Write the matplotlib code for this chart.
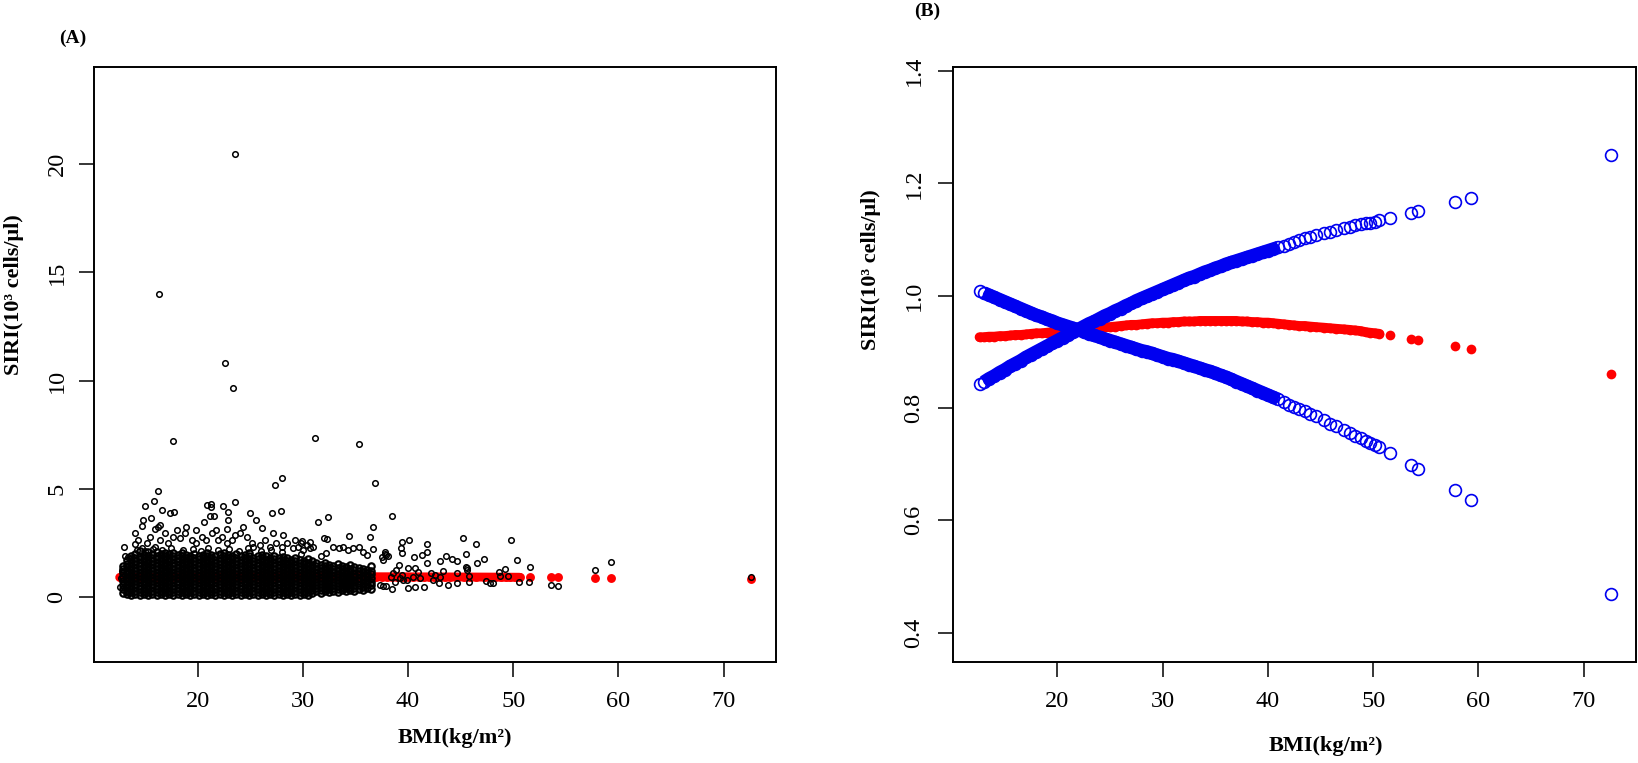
import matplotlib
matplotlib.use("Agg")
import matplotlib.pyplot as plt

plt.rcParams['font.family'] = ['Liberation Serif', 'DejaVu Serif']

# ---------------- data ----------------
# fitted curve (red) and the two blue bands, evaluated at BMI values
fit_bmi = [12.6, 13.0, 13.5, 14.0, 14.5, 15.0, 15.5, 16.0, 16.5, 17.0, 17.5, 18.0, 18.5, 19.0, 19.5,
           20.0, 20.5, 21.0, 21.5, 22.0, 22.5, 23.0, 23.5, 24.0, 24.5, 25.0, 25.5, 26.0, 26.5, 27.0,
           27.5, 28.0, 28.5, 29.0, 29.5, 30.0, 30.5, 31.0, 31.5, 32.0, 32.5, 33.0, 33.5, 34.0, 34.5,
           35.0, 35.5, 36.0, 36.5, 37.0, 37.5, 38.0, 38.5, 39.0, 39.5, 40.0, 40.5, 41.0, 41.5, 42.0,
           42.5, 43.0, 43.5, 44.0, 44.6, 45.3, 45.9, 46.5, 47.2, 47.8, 48.3, 48.8, 49.3, 49.7, 50.2,
           50.6, 51.6, 53.6, 54.3, 57.8, 59.3, 72.6]
fit_siri = [0.926, 0.926, 0.927, 0.927, 0.928, 0.928, 0.929, 0.930, 0.930, 0.931, 0.932, 0.933, 0.933, 0.934, 0.935,
            0.936, 0.937, 0.938, 0.938, 0.939, 0.940, 0.941, 0.942, 0.943, 0.944, 0.944, 0.945, 0.946, 0.947, 0.948,
            0.948, 0.949, 0.950, 0.951, 0.951, 0.952, 0.952, 0.953, 0.953, 0.954, 0.954, 0.954, 0.955, 0.955, 0.955,
            0.955, 0.955, 0.955, 0.955, 0.955, 0.954, 0.954, 0.953, 0.953, 0.952, 0.952, 0.951, 0.950, 0.949, 0.948,
            0.947, 0.946, 0.946, 0.945, 0.944, 0.943, 0.942, 0.941, 0.940, 0.939, 0.938, 0.937, 0.935, 0.934, 0.933,
            0.932, 0.929, 0.923, 0.921, 0.910, 0.905, 0.860]
ci_rise = [0.842, 0.846, 0.852, 0.857, 0.863, 0.868, 0.874, 0.879, 0.884, 0.890, 0.895, 0.900, 0.905, 0.910, 0.915,
           0.920, 0.925, 0.930, 0.935, 0.940, 0.945, 0.950, 0.954, 0.959, 0.964, 0.968, 0.973, 0.977, 0.982, 0.986,
           0.991, 0.995, 0.999, 1.003, 1.007, 1.011, 1.015, 1.019, 1.023, 1.027, 1.031, 1.034, 1.038, 1.042, 1.045,
           1.049, 1.052, 1.056, 1.059, 1.062, 1.065, 1.068, 1.071, 1.074, 1.077, 1.080, 1.083, 1.086, 1.089, 1.092,
           1.096, 1.099, 1.102, 1.105, 1.108, 1.111, 1.114, 1.117, 1.120, 1.123, 1.125, 1.127, 1.129, 1.130, 1.132,
           1.134, 1.139, 1.148, 1.151, 1.167, 1.174, 1.251]
ci_fall = [1.008, 1.005, 1.001, 0.997, 0.993, 0.989, 0.985, 0.981, 0.977, 0.973, 0.969, 0.965, 0.962, 0.958, 0.955,
           0.951, 0.948, 0.945, 0.942, 0.939, 0.936, 0.932, 0.929, 0.926, 0.923, 0.920, 0.917, 0.914, 0.911, 0.908,
           0.905, 0.902, 0.900, 0.897, 0.894, 0.891, 0.888, 0.886, 0.883, 0.880, 0.877, 0.874, 0.871, 0.868, 0.865,
           0.862, 0.858, 0.855, 0.851, 0.847, 0.843, 0.839, 0.835, 0.831, 0.827, 0.823, 0.819, 0.815, 0.811, 0.806,
           0.802, 0.798, 0.794, 0.790, 0.785, 0.778, 0.772, 0.767, 0.761, 0.755, 0.750, 0.746, 0.741, 0.737, 0.734,
           0.730, 0.720, 0.698, 0.691, 0.654, 0.636, 0.469]

# raw observations (panel A): dense core, read column by column
core_bmi = [12.9, 13.3, 13.7, 14.1, 14.5, 14.9, 15.3, 15.7, 16.1, 16.5, 16.9, 17.3, 17.7, 18.1, 18.5,
            18.9, 19.3, 19.7, 20.1, 20.5, 20.9, 21.3, 21.7, 22.1, 22.5, 22.9, 23.3, 23.7, 24.1, 24.5,
            24.9, 25.3, 25.7, 26.1, 26.5, 26.9, 27.3, 27.7, 28.1, 28.5, 28.9, 29.3, 29.7, 30.1, 30.5,
            30.9, 31.3, 31.7, 32.1, 32.5, 32.9, 33.3, 33.7, 34.1, 34.5, 34.9, 35.3, 35.7, 36.1, 36.5]
core_siri = [
    [0.22, 0.41, 0.58, 0.77, 0.95, 1.12, 1.31, 1.47],
    [0.14, 0.3, 0.46, 0.61, 0.77, 0.92, 1.08, 1.23, 1.39, 1.56, 1.72],
    [0.1, 0.24, 0.39, 0.55, 0.7, 0.84, 1.0, 1.15, 1.3, 1.45, 1.61, 1.78, 1.93],
    [0.16, 0.31, 0.46, 0.62, 0.77, 0.92, 1.07, 1.22, 1.37, 1.53, 1.68, 1.84, 2.02],
    [0.09, 0.23, 0.38, 0.54, 0.69, 0.85, 1.0, 1.14, 1.3, 1.45, 1.6, 1.76, 1.9, 2.14],
    [0.15, 0.3, 0.45, 0.61, 0.76, 0.91, 1.06, 1.21, 1.37, 1.52, 1.67, 1.83, 1.98],
    [0.1, 0.24, 0.39, 0.53, 0.69, 0.84, 0.99, 1.15, 1.3, 1.44, 1.6, 1.75, 1.91, 2.08],
    [0.16, 0.31, 0.47, 0.62, 0.76, 0.92, 1.07, 1.23, 1.38, 1.53, 1.69, 1.84, 2.0],
    [0.09, 0.23, 0.38, 0.54, 0.7, 0.85, 1.0, 1.15, 1.29, 1.45, 1.61, 1.76, 1.92, 2.1],
    [0.15, 0.3, 0.46, 0.61, 0.77, 0.92, 1.08, 1.22, 1.37, 1.53, 1.68, 1.83, 1.99],
    [0.1, 0.25, 0.39, 0.55, 0.7, 0.84, 1.0, 1.16, 1.31, 1.46, 1.6, 1.76, 1.92, 2.06],
    [0.16, 0.31, 0.46, 0.61, 0.77, 0.93, 1.08, 1.23, 1.38, 1.52, 1.68, 1.84, 1.99],
    [0.09, 0.24, 0.39, 0.54, 0.69, 0.85, 1.0, 1.14, 1.3, 1.46, 1.61, 1.76, 1.91, 2.07],
    [0.15, 0.3, 0.45, 0.61, 0.76, 0.91, 1.07, 1.22, 1.37, 1.52, 1.68, 1.83, 1.98],
    [0.1, 0.24, 0.4, 0.55, 0.7, 0.84, 0.99, 1.15, 1.3, 1.45, 1.6, 1.76, 1.91, 2.05],
    [0.16, 0.31, 0.46, 0.62, 0.77, 0.92, 1.07, 1.22, 1.38, 1.53, 1.68, 1.83, 1.97],
    [0.1, 0.25, 0.39, 0.54, 0.7, 0.85, 1.0, 1.15, 1.3, 1.45, 1.61, 1.76, 1.9],
    [0.15, 0.3, 0.46, 0.61, 0.76, 0.91, 1.07, 1.22, 1.37, 1.53, 1.68, 1.83, 2.0],
    [0.09, 0.24, 0.39, 0.55, 0.7, 0.85, 1.0, 1.14, 1.3, 1.46, 1.61, 1.76, 1.91],
    [0.16, 0.31, 0.46, 0.61, 0.77, 0.92, 1.07, 1.23, 1.38, 1.53, 1.68, 1.84, 1.98],
    [0.1, 0.24, 0.4, 0.54, 0.69, 0.85, 1.0, 1.15, 1.29, 1.45, 1.6, 1.75, 1.9, 2.06],
    [0.15, 0.3, 0.45, 0.61, 0.76, 0.91, 1.06, 1.22, 1.37, 1.52, 1.67, 1.83, 1.97],
    [0.09, 0.25, 0.39, 0.54, 0.7, 0.84, 1.0, 1.15, 1.3, 1.45, 1.61, 1.75, 1.91],
    [0.16, 0.31, 0.46, 0.62, 0.77, 0.92, 1.07, 1.22, 1.38, 1.53, 1.68, 1.84, 2.0],
    [0.1, 0.24, 0.39, 0.55, 0.7, 0.85, 0.99, 1.15, 1.3, 1.45, 1.6, 1.76, 1.9, 2.05],
    [0.15, 0.3, 0.46, 0.61, 0.76, 0.91, 1.07, 1.22, 1.37, 1.52, 1.68, 1.83, 1.98],
    [0.09, 0.24, 0.4, 0.54, 0.7, 0.85, 1.0, 1.14, 1.3, 1.46, 1.6, 1.76, 1.91],
    [0.16, 0.31, 0.46, 0.61, 0.77, 0.92, 1.07, 1.23, 1.38, 1.53, 1.68, 1.84, 1.99],
    [0.1, 0.25, 0.39, 0.55, 0.69, 0.84, 1.0, 1.15, 1.3, 1.45, 1.61, 1.75, 1.9],
    [0.15, 0.3, 0.45, 0.61, 0.76, 0.91, 1.06, 1.22, 1.37, 1.52, 1.67, 1.83, 1.97],
    [0.09, 0.24, 0.4, 0.54, 0.7, 0.85, 1.0, 1.15, 1.3, 1.45, 1.6, 1.76, 1.91, 2.04],
    [0.16, 0.31, 0.46, 0.62, 0.77, 0.92, 1.07, 1.22, 1.37, 1.53, 1.68, 1.83],
    [0.1, 0.24, 0.39, 0.55, 0.7, 0.84, 1.0, 1.15, 1.3, 1.46, 1.61, 1.76, 1.9],
    [0.15, 0.3, 0.46, 0.61, 0.76, 0.91, 1.07, 1.22, 1.37, 1.52, 1.68, 1.84, 1.98],
    [0.09, 0.25, 0.39, 0.54, 0.7, 0.85, 0.99, 1.14, 1.3, 1.45, 1.6, 1.75, 1.9],
    [0.16, 0.31, 0.46, 0.61, 0.77, 0.92, 1.07, 1.23, 1.38, 1.53, 1.68, 1.83],
    [0.1, 0.24, 0.4, 0.55, 0.69, 0.85, 1.0, 1.15, 1.3, 1.45, 1.61, 1.76, 1.92],
    [0.15, 0.3, 0.45, 0.61, 0.76, 0.91, 1.06, 1.22, 1.37, 1.52, 1.67, 1.82],
    [0.1, 0.24, 0.39, 0.54, 0.7, 0.84, 1.0, 1.15, 1.3, 1.45, 1.6, 1.75, 1.88],
    [0.16, 0.31, 0.46, 0.62, 0.77, 0.92, 1.07, 1.22, 1.38, 1.53, 1.68, 1.8],
    [0.11, 0.25, 0.4, 0.55, 0.7, 0.85, 1.0, 1.14, 1.3, 1.45, 1.61, 1.75],
    [0.17, 0.31, 0.46, 0.61, 0.76, 0.91, 1.07, 1.22, 1.37, 1.52, 1.67, 1.82],
    [0.12, 0.25, 0.39, 0.55, 0.7, 0.85, 1.0, 1.15, 1.3, 1.45, 1.6, 1.74],
    [0.18, 0.32, 0.46, 0.62, 0.77, 0.92, 1.07, 1.22, 1.37, 1.53, 1.68],
    [0.13, 0.26, 0.4, 0.55, 0.7, 0.84, 1.0, 1.15, 1.3, 1.46, 1.6, 1.76],
    [0.2, 0.33, 0.47, 0.61, 0.76, 0.91, 1.06, 1.22, 1.37, 1.52, 1.66],
    [0.28, 0.42, 0.56, 0.7, 0.84, 0.99, 1.14, 1.29, 1.44, 1.58],
    [0.22, 0.35, 0.49, 0.63, 0.77, 0.92, 1.07, 1.22, 1.36, 1.5],
    [0.3, 0.44, 0.57, 0.71, 0.86, 1.0, 1.15, 1.3, 1.45, 1.6],
    [0.25, 0.38, 0.5, 0.64, 0.79, 0.93, 1.08, 1.23, 1.38, 1.52],
    [0.32, 0.45, 0.58, 0.72, 0.86, 1.01, 1.16, 1.3, 1.44],
    [0.27, 0.4, 0.52, 0.65, 0.79, 0.94, 1.09, 1.23, 1.38, 1.55],
    [0.34, 0.47, 0.6, 0.73, 0.87, 1.01, 1.16, 1.31, 1.46],
    [0.29, 0.42, 0.54, 0.67, 0.8, 0.95, 1.1, 1.24, 1.39],
    [0.36, 0.5, 0.62, 0.75, 0.88, 1.02, 1.17, 1.32, 1.5],
    [0.31, 0.44, 0.57, 0.69, 0.82, 0.96, 1.1, 1.25, 1.4],
    [0.4, 0.58, 0.75, 0.9, 1.06, 1.22, 1.38],
    [0.33, 0.5, 0.68, 0.84, 1.0, 1.16, 1.3],
    [0.45, 0.62, 0.8, 0.97, 1.13, 1.28],
    [0.38, 0.56, 0.73, 0.9, 1.08, 1.24, 1.45],
]

# raw observations (panel A): scattered points outside the core
spread_bmi = [23.6, 16.35, 22.65, 23.35, 17.7, 31.2, 35.3, 27.4, 28.0, 36.9, 16.2,
              15.9, 15.0, 13.0, 14.1, 15.6, 14.7, 14.8, 16.6, 17.4, 17.8, 16.2, 16.4, 16.0,
              20.9, 21.3, 21.3, 21.2, 21.6, 22.4, 22.9, 23.6, 22.9, 22.8, 20.6, 19.9, 25.0,
              25.6, 27.1, 27.9, 26.1, 27.2, 28.1, 31.4, 32.4, 29.9, 30.7, 32.0, 32.3, 34.4,
              36.4, 36.7, 36.7, 38.5,
              14.05, 14.36, 14.68, 15.15, 15.47, 15.95, 16.42, 16.9, 17.21, 17.69, 18.0, 18.32,
              18.8, 18.95, 19.43, 19.9, 20.38, 20.85, 21.33, 21.8, 21.96, 22.28, 22.76, 23.23,
              23.55, 24.02, 24.34, 24.66, 25.13, 25.29, 25.92, 26.4, 26.87, 27.5, 27.98, 28.46,
              29.09, 29.56, 30.04, 30.67,
              14.2, 15.0, 15.8, 16.6, 17.5, 18.6, 19.6, 20.3, 21.0, 21.9, 23.0, 23.9, 24.8,
              26.0, 27.0, 28.0, 29.8, 29.3, 29.8, 30.4, 31.0,
              32.9, 33.4, 33.8, 34.3, 34.8, 35.3, 35.75, 36.1, 31.7, 32.2,
              12.6, 12.7, 12.8, 13.1, 13.4,
              37.8, 37.95, 37.6, 39.4, 40.1, 39.3, 39.4, 41.8, 41.8, 40.6, 41.3, 41.8, 43.6,
              44.2, 44.7, 43.0, 45.2, 45.5, 46.5, 47.2, 46.6, 45.5, 45.6, 49.8, 50.4, 51.6,
              48.6, 49.2, 49.5, 48.7, 50.5, 51.5, 53.6, 54.3, 57.8, 59.3, 72.6,
              48.1, 47.8, 47.4, 45.8, 45.8, 45.6, 44.7, 44.7, 43.8, 42.95, 43.0, 43.3, 42.4,
              42.2, 42.55, 41.5, 40.7, 40.0, 39.9, 40.7, 40.95, 40.0, 41.1, 40.5, 39.1, 38.9,
              38.6, 38.4, 38.75, 38.5, 37.95, 37.6, 37.3, 39.4, 39.5, 39.2, 37.5, 38.1, 37.8]
spread_siri = [20.45, 14.0, 10.8, 9.69, 7.2, 7.38, 7.09, 5.18, 5.5, 5.26, 4.92,
               4.46, 4.24, 2.32, 2.98, 3.67, 3.32, 3.58, 4.03, 3.92, 3.95, 3.27, 3.35, 3.15,
               4.27, 4.32, 4.17, 3.78, 3.78, 4.23, 3.94, 4.40, 3.58, 3.15, 3.49, 3.12, 3.92,
               3.58, 3.89, 3.98, 3.2, 2.97, 2.9, 3.5, 3.73, 2.62, 2.58, 2.73, 2.7, 2.84,
               2.78, 3.26, 2.23, 3.76,
               2.46, 2.66, 2.27, 2.5, 2.81, 2.35, 2.66, 2.96, 2.5, 2.81, 3.12, 2.73,
               2.96, 3.27, 2.66, 2.5, 2.81, 2.66, 2.96, 3.12, 2.66, 2.81, 2.5, 2.66,
               2.89, 2.96, 3.27, 2.81, 2.5, 2.35, 2.42, 2.66, 2.35, 2.5, 2.35, 2.5,
               2.27, 2.35, 2.19, 2.27,
               2.2, 2.15, 2.25, 2.2, 2.3, 2.2, 2.25, 2.15, 2.3, 2.2, 2.25, 2.15, 2.3,
               2.15, 2.2, 2.1, 2.0, 2.66, 2.5, 2.42, 2.35,
               2.35, 2.27, 2.35, 2.19, 2.27, 2.35, 2.12, 1.96, 1.9, 2.05,
               0.47, 0.9, 1.2, 1.9, 1.85,
               2.12, 1.96, 1.73, 2.58, 2.64, 2.27, 2.04, 2.46, 2.09, 1.88, 1.95, 1.61, 1.93,
               1.79, 1.70, 1.67, 2.73, 2.0, 2.47, 1.76, 1.58, 1.42, 1.27, 2.66, 1.72, 1.42,
               1.19, 1.30, 1.0, 1.0, 0.72, 0.72, 0.56, 0.53, 1.28, 1.64, 0.93,
               0.66, 0.66, 0.78, 0.73, 0.99, 1.35, 0.68, 1.12, 0.56, 0.66, 0.96, 1.24, 0.81,
               1.12, 1.04, 0.5, 0.5, 0.42, 0.81, 1.35, 1.19, 1.35, 0.89, 0.96, 1.5, 1.27,
               1.12, 0.96, 0.73, 0.39, 0.53, 0.53, 0.58, 1.04, 0.81, 0.89, 1.85, 1.9, 2.0]

x_ticks = [20, 30, 40, 50, 60, 70]
a_yticks = [0, 5, 10, 15, 20]
b_yticks = [0.4, 0.6, 0.8, 1.0, 1.2, 1.4]

# ---------------- figure ----------------
W, H = 1638, 763
fig = plt.figure(figsize=(W / 100, H / 100), dpi=100)
bot = (H - 662) / H
hgt = (662 - 66.7) / H
axA = fig.add_axes([94 / W, bot, 682 / W, hgt])
axB = fig.add_axes([953 / W, bot, 683 / W, hgt])

RED = '#ff0000'
BLUE = '#0000f0'

# dense part of the fitted curve is drawn as a continuous band under its points
n_band_red = fit_bmi.index(50.6) + 1
n_band_blue = fit_bmi.index(41.0) + 1

# ----- panel A -----
axA.plot(fit_bmi[:n_band_red], fit_siri[:n_band_red], color=RED, lw=6.4,
         solid_capstyle='round', zorder=2)
axA.plot(fit_bmi, fit_siri, 'o', color=RED, ms=6.4, mew=0, zorder=2)

core_x = [x for x, ys in zip(core_bmi, core_siri) for _ in ys]
core_y = [y for ys in core_siri for y in ys]
axA.plot(core_x, core_y, 'o', mfc='none', mec='black', ms=4.6, mew=1.6, ls='none', zorder=3)
axA.plot(spread_bmi, spread_siri, 'o', mfc='none', mec='black', ms=4.0, mew=1.1, ls='none', zorder=3)

axA.set_xlim(10.16, 74.97)
axA.set_ylim(-2.98, 24.5)
axA.set_xticks(x_ticks)
axA.set_yticks(a_yticks)
axA.set_yticklabels([str(v) for v in a_yticks], rotation=90, va='center')

# ----- panel B -----
axB.plot(fit_bmi[:n_band_red], fit_siri[:n_band_red], color=RED, lw=7.0,
         solid_capstyle='round', zorder=2)
axB.plot(fit_bmi, fit_siri, 'o', color=RED, ms=7.0, mew=0, zorder=2)
for band in (ci_rise, ci_fall):
    axB.plot(fit_bmi[1:n_band_blue], band[1:n_band_blue], color=BLUE, lw=9.6,
             solid_capstyle='butt', zorder=3)
    axB.plot(fit_bmi, band, 'o', mfc='none', mec=BLUE, ms=8.5, mew=1.2, ls='none', zorder=3)

axB.set_xlim(10.08, 74.97)
axB.set_ylim(0.3475, 1.4077)
axB.set_xticks(x_ticks)
axB.set_yticks(b_yticks)
axB.set_yticklabels(['%.1f' % v for v in b_yticks], rotation=90, va='center')

for ax, ypad in ((axA, 8), (axB, 9.5)):
    for s in ax.spines.values():
        s.set_linewidth(1.4)
    ax.tick_params(axis='both', direction='out', length=11, width=1.1, labelsize=17.5)
    ax.tick_params(axis='x', pad=10)
    ax.tick_params(axis='y', pad=ypad)

# ----- text -----
fig.text(73 / W, 1 - 38 / H, '(A)', ha='center', va='center', fontsize=14, fontweight='bold')
fig.text(927 / W, 1 - 11 / H, '(B)', ha='center', va='center', fontsize=14, fontweight='bold')
ylab = 'SIRI(10³ cells/μl)'
xlab = 'BMI(kg/m²)'
fig.text(14 / W, 1 - 295 / H, ylab, rotation=90, ha='center', va='center', fontsize=16, fontweight='bold')
fig.text(871 / W, 1 - 270 / H, ylab, rotation=90, ha='center', va='center', fontsize=16, fontweight='bold')
fig.text(455 / W, 1 - 738 / H, xlab, ha='center', va='center', fontsize=16, fontweight='bold')
fig.text(1326 / W, 1 - 746 / H, xlab, ha='center', va='center', fontsize=16, fontweight='bold')

fig.savefig('out.png', dpi=100, facecolor='white')
